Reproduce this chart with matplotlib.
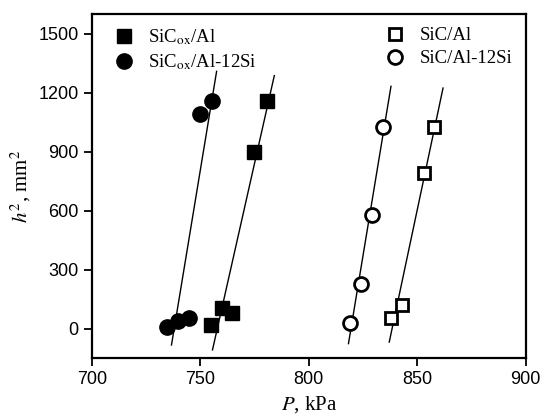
import matplotlib
matplotlib.use("Agg")
import matplotlib.pyplot as plt
import numpy as np

plt.rcParams['mathtext.fontset'] = 'stix'

# data (P in kPa, h^2 in mm^2)
p_sicox_al = [754.9, 759.8, 764.7, 774.7, 780.6]
h2_sicox_al = [17, 103, 81, 897, 1157]
p_sicox_alsi = [734.6, 739.8, 744.9, 749.8, 755.2]
h2_sicox_alsi = [7, 38, 52, 1090, 1157]
p_sic_al = [837.9, 843.1, 853.2, 857.8]
h2_sic_al = [52, 120, 794, 1027]
p_sic_alsi = [819.0, 823.9, 829.0, 834.4]
h2_sic_alsi = [27, 228, 579, 1027]

# fitted line end points
fit_p = [[755.6, 784.1], [736.7, 757.5], [837.1, 861.9], [818.3, 837.9]]
fit_h2 = [[-108, 1287], [-83, 1309], [-68, 1224], [-76, 1233]]

x_ticks = [700, 750, 800, 850, 900]
y_ticks = [0, 300, 600, 900, 1200, 1500]

fig = plt.figure(figsize=(5.47, 4.16), dpi=100)
ax = fig.add_axes([0.168, 0.139, 0.793, 0.827])

for px, hy in zip(fit_p, fit_h2):
    ax.plot(px, hy, color='black', lw=1.0)

h1, = ax.plot(p_sicox_al, h2_sicox_al, 's', color='black', ms=10, ls='none',
              label=r'SiC$_{\rm ox}$/Al')
h2, = ax.plot(p_sicox_alsi, h2_sicox_alsi, 'o', color='black', ms=11, ls='none',
              label=r'SiC$_{\rm ox}$/Al-12Si')
h3, = ax.plot(p_sic_al, h2_sic_al, 's', mfc='white', mec='black', mew=2, ms=9,
              ls='none', label='SiC/Al')
h4, = ax.plot(p_sic_alsi, h2_sic_alsi, 'o', mfc='white', mec='black', mew=2, ms=10,
              ls='none', label='SiC/Al-12Si')

ax.set_xlim(700, 900)
ax.set_ylim(-150, 1600)
ax.set_xticks(x_ticks)
ax.set_yticks(y_ticks)
for lab in ax.get_xticklabels() + ax.get_yticklabels():
    lab.set_fontfamily('Liberation Sans')
    lab.set_fontsize(13)
ax.tick_params(direction='out', length=6, width=1.3, right=False, top=False)
for s in ax.spines.values():
    s.set_linewidth(1.6)

ax.set_xlabel(r'$P$, kPa', fontfamily='Liberation Serif', fontsize=15, labelpad=4)
ax.set_ylabel(r'$h^2$, mm$^2$', fontfamily='Liberation Serif', fontsize=15, labelpad=4)

leg1 = ax.legend(handles=[h1, h2], loc='upper left', frameon=False,
                 prop={'family': 'Liberation Serif', 'size': 13.5},
                 handletextpad=0.3, borderaxespad=0.3, labelspacing=0.3)
ax.add_artist(leg1)
ax.legend(handles=[h3, h4], loc='upper right', frameon=False,
          prop={'family': 'Liberation Serif', 'size': 13.5},
          handletextpad=0.3, borderaxespad=0.3, labelspacing=0.3)

fig.savefig('out.png', dpi=100)
